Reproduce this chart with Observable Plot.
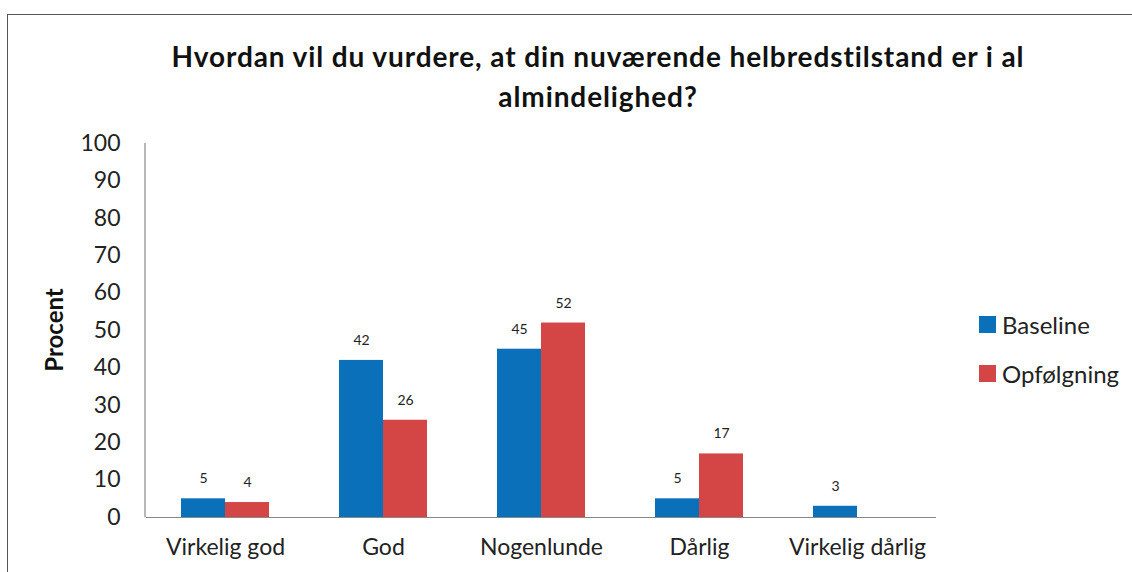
<!DOCTYPE html>
<html>
<head>
<meta charset="utf-8">
<script src="https://cdn.jsdelivr.net/npm/d3@7"></script>
<script src="https://cdn.jsdelivr.net/npm/@observablehq/plot@0.6"></script>
<style>
  html, body { margin: 0; padding: 0; background: #fff; }
  #wrap { position: relative; width: 1132px; height: 572px; overflow: hidden; font-family: Lato, "Open Sans", sans-serif; }
  #border { position: absolute; left: 7px; top: 14px; width: 1200px; height: 700px; border-left: 1.5px solid #555; border-top: 1.5px solid #555; }
  #title { position: absolute; left: 0; width: 1196px; top: 36px; text-align: center; font-weight: bold; font-size: 28px; letter-spacing: 0.9px; line-height: 40px; color: #111; }
  #chart { position: absolute; left: 0; top: 0; }
  #legend { position: absolute; left: 979px; top: 300px; font-size: 24px; color: #222; }
  .item { display: flex; align-items: center; height: 49px; }
  .sw { width: 17px; height: 17px; margin-right: 6px; }
</style>
</head>
<body>
<div id="wrap">
  <div id="border"></div>
  <div id="title">Hvordan vil du vurdere, at din nuværende helbredstilstand er i al<br>almindelighed?</div>
  <div id="chart"></div>
  <div id="legend"></div>
</div>
<script>
const categories = ["Virkelig god", "God", "Nogenlunde", "Dårlig", "Virkelig dårlig"];
const seriesNames = ["Baseline", "Opfølgning"];
const baseline = [5, 42, 45, 5, 3];
const opfolgning = [4, 26, 52, 17, null];
const yTicks = [0, 10, 20, 30, 40, 50, 60, 70, 80, 90, 100];
const colors = ["#0a70ba", "#d44545"];

const rows = [];
categories.forEach((c, i) => {
  rows.push({cat: c, series: seriesNames[0], value: baseline[i]});
  if (opfolgning[i] != null) rows.push({cat: c, series: seriesNames[1], value: opfolgning[i]});
});

const chart = Plot.plot({
  width: 1132,
  height: 572,
  marginLeft: 145,
  marginRight: 195,
  marginTop: 143,
  marginBottom: 55,
  style: {fontFamily: "Lato, 'Open Sans', sans-serif", background: "transparent", color: "#222"},
  fx: {domain: categories, padding: 0, label: null},
  x: {domain: seriesNames, paddingInner: 0, paddingOuter: 0.76, axis: null},
  y: {domain: [0, 100], ticks: yTicks, label: null},
  color: {domain: seriesNames, range: colors},
  marks: [
    Plot.axisFx({tickSize: 0, tickPadding: 21, fontSize: 23, label: null, anchor: "bottom"}),
    Plot.axisY({ticks: yTicks, tickSize: 0, tickPadding: 26, fontSize: 23, label: null}),
    Plot.barY(rows, {fx: "cat", x: "series", y: "value", fill: "series"}),
    Plot.text(rows, {fx: "cat", x: "series", y: "value", text: "value", dy: -20, fontSize: 14, fill: "#222"}),
    Plot.ruleY([0], {stroke: "#888", strokeWidth: 1.2})
  ]
});
document.getElementById("chart").appendChild(chart);

const svg = d3.select(chart);
const ys = chart.scale("y");
// vertical y-axis line at the left edge of the plot area
svg.append("line")
  .attr("x1", 145).attr("x2", 145)
  .attr("y1", ys.apply(0)).attr("y2", ys.apply(100))
  .attr("stroke", "#888").attr("stroke-width", 1.2);

// y-axis title
svg.append("text")
  .attr("transform", "translate(63,330) rotate(-90)")
  .attr("text-anchor", "middle")
  .attr("font-weight", "bold")
  .attr("font-size", 24)
  .attr("fill", "#111")
  .text("Procent");

const legend = d3.select("#legend");
seriesNames.forEach((s, i) => {
  const it = legend.append("div").attr("class", "item");
  it.append("div").attr("class", "sw").style("background", colors[i]);
  it.append("span").text(s);
});
</script>
</body>
</html>
